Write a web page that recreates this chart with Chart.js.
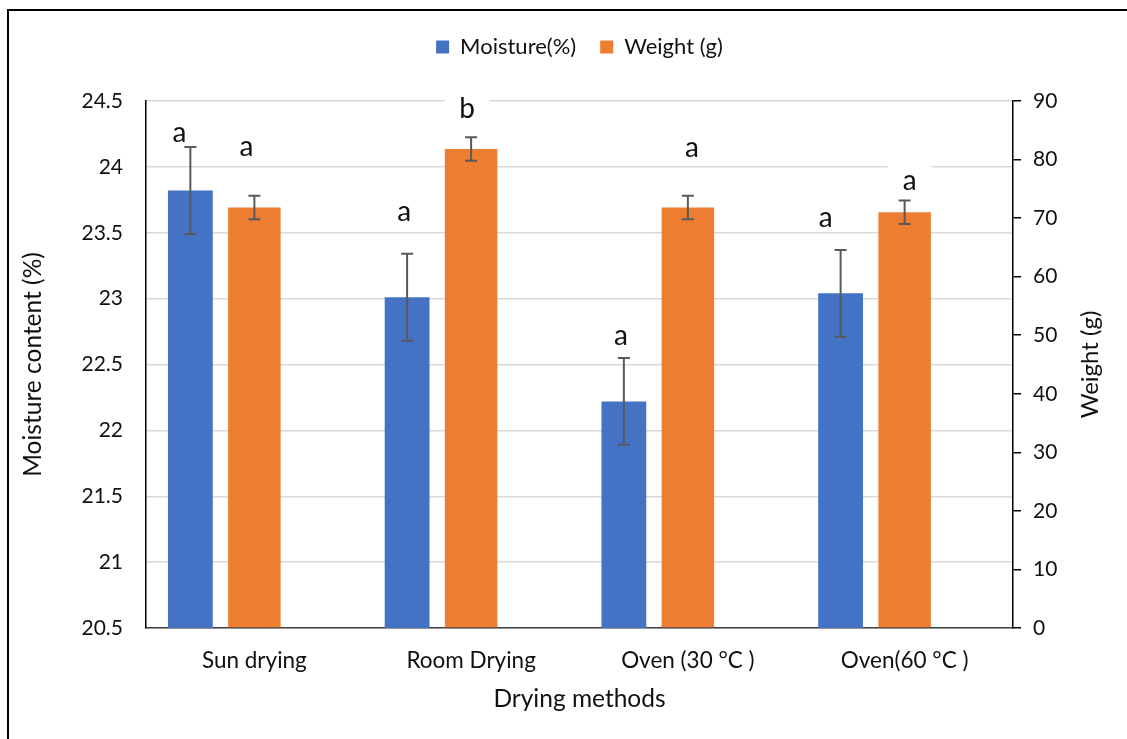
<!DOCTYPE html>
<html>
<head>
<meta charset="utf-8">
<script src="https://cdn.jsdelivr.net/npm/chart.js@4.4.1/dist/chart.umd.min.js"></script>
<style>
  html, body { margin: 0; padding: 0; background: #fff; }
  #wrap { position: relative; width: 1127px; height: 739px; overflow: hidden; }
  #frame { position: absolute; left: 7px; top: 9px; width: 1200px; height: 800px;
           border-left: 2px solid #000; border-top: 2px solid #000; pointer-events: none; }
</style>
</head>
<body>
<div id="wrap">
  <canvas id="chart" width="1127" height="739"></canvas>
  <div id="frame"></div>
</div>
<script>
// data
const methods = ["Sun drying", "Room Drying", "Oven (30 °C )", "Oven(60 °C )"];
const moisture = [23.82, 23.01, 22.22, 23.04];
const moistureErr = [0.33, 0.33, 0.33, 0.33];
const weight = [71.8, 81.8, 71.8, 71.0];
const weightErr = [2.0, 2.0, 2.0, 2.0];
const moistureLetters = ["a", "a", "a", "a"];
const weightLetters = ["a", "b", "a", "a"];

// where the significance letters sit (baseline, in each axis' units) + small x nudges
const moistureLetterAt = [24.19, 23.59, 22.65, 23.54];
const weightLetterAt = [80.6, 87.1, 80.4, 74.8];
const moistureLetterDx = [-11, -3, -3, -15];
const weightLetterDx = [-8, -4, 4, 5];

const FONT = "Lato";
const BLUE = "#4472C4";
const ORANGE = "#ED7D31";

function letterSpots(chart) {
  const spots = [];
  const sets = [
    { meta: chart.getDatasetMeta(0), scale: chart.scales.y, at: moistureLetterAt, dx: moistureLetterDx, txt: moistureLetters },
    { meta: chart.getDatasetMeta(1), scale: chart.scales.y2, at: weightLetterAt, dx: weightLetterDx, txt: weightLetters }
  ];
  sets.forEach(s => {
    s.meta.data.forEach((bar, i) => {
      spots.push({ x: bar.x + s.dx[i], y: s.scale.getPixelForValue(s.at[i]), t: s.txt[i] });
    });
  });
  return spots;
}

const annotate = {
  id: "annotate",
  beforeDatasetsDraw(chart) {
    const ctx = chart.ctx;
    ctx.save();
    ctx.fillStyle = "#fff";
    letterSpots(chart).forEach(p => ctx.fillRect(p.x - 22, p.y - 30, 44, 34));
    ctx.restore();
  },
  afterDatasetsDraw(chart) {
    const ctx = chart.ctx;
    ctx.save();
    // error bars
    ctx.strokeStyle = "#595959";
    ctx.lineWidth = 2;
    const pairs = [[0, chart.scales.y, moisture, moistureErr], [1, chart.scales.y2, weight, weightErr]];
    pairs.forEach(([idx, sc, vals, errs]) => {
      chart.getDatasetMeta(idx).data.forEach((bar, i) => {
        const top = sc.getPixelForValue(vals[i] + errs[i]);
        const bot = sc.getPixelForValue(vals[i] - errs[i]);
        ctx.beginPath();
        ctx.moveTo(bar.x, top); ctx.lineTo(bar.x, bot);
        ctx.moveTo(bar.x - 6, top); ctx.lineTo(bar.x + 6, top);
        ctx.moveTo(bar.x - 6, bot); ctx.lineTo(bar.x + 6, bot);
        ctx.stroke();
      });
    });
    // letters
    ctx.fillStyle = "#111";
    ctx.font = "28px " + FONT;
    ctx.textAlign = "center";
    ctx.textBaseline = "alphabetic";
    letterSpots(chart).forEach(p => ctx.fillText(p.t, p.x, p.y));
    // right axis title, reading bottom to top like Excel
    const a = chart.chartArea;
    ctx.font = "24px " + FONT;
    ctx.textBaseline = "middle";
    ctx.translate(1090, (a.top + a.bottom) / 2);
    ctx.rotate(-Math.PI / 2);
    ctx.fillText("Weight (g)", 0, 0);
    ctx.restore();
  }
};

new Chart(document.getElementById("chart"), {
  type: "bar",
  data: {
    labels: methods,
    datasets: [
      { label: "Moisture(%)", data: moisture, backgroundColor: BLUE, yAxisID: "y", xAxisID: "x", barPercentage: 0.70 },
      { label: "Weight (g)", data: weight, backgroundColor: ORANGE, yAxisID: "y2", xAxisID: "x", barPercentage: 0.82 },
      { label: "", data: [], yAxisID: "y", xAxisID: "x" }
    ]
  },
  options: {
    responsive: false,
    animation: false,
    layout: { padding: { top: 12, left: 0, right: 0, bottom: 0 } },
    datasets: { bar: { categoryPercentage: 0.886 } },
    plugins: {
      legend: {
        position: "top",
        fullSize: false,
        labels: {
          filter: item => item.datasetIndex < 2,
          boxWidth: 13,
          boxHeight: 13,
          padding: 24,
          color: "#111",
          font: { family: FONT, size: 22 }
        }
      },
      tooltip: { enabled: false }
    },
    scales: {
      x: {
        position: "bottom",
        grid: { display: false, drawTicks: false },
        border: { color: "#404040", width: 1.5 },
        ticks: { color: "#111", padding: 19, font: { family: FONT, size: 22.5 } },
        title: { display: true, text: "Drying methods", color: "#111", font: { family: FONT, size: 24.5 }, padding: { top: 0, bottom: 25 } },
        afterFit: s => { s.height = 111; }
      },
      xTop: {
        type: "category",
        position: "top",
        grid: { display: false },
        border: { display: false },
        ticks: { display: false },
        afterFit: s => { s.height = 33; }
      },
      y: {
        position: "left",
        min: 20.5,
        max: 24.5,
        ticks: { stepSize: 0.5, color: "#111", padding: 23, font: { family: FONT, size: 21 }, callback: v => String(v) },
        grid: { color: "#d9d9d9", lineWidth: 1.5, drawTicks: false, tickLength: 0 },
        border: { color: "#000", width: 1.5 },
        title: { display: true, text: "Moisture content (%)", color: "#111", font: { family: FONT, size: 24.5 }, padding: { top: 18, bottom: 0 } },
        afterFit: s => { s.width = 146; }
      },
      y2: {
        position: "right",
        min: 0,
        max: 90,
        ticks: { stepSize: 10, color: "#111", padding: 12, font: { family: FONT, size: 21 } },
        grid: { drawOnChartArea: false, drawTicks: true, tickLength: 8, tickColor: "#000", lineWidth: 1.5 },
        border: { color: "#000", width: 1.5 },
        afterFit: s => { s.width = 114; }
      }
    }
  },
  plugins: [annotate]
});
</script>
</body>
</html>
